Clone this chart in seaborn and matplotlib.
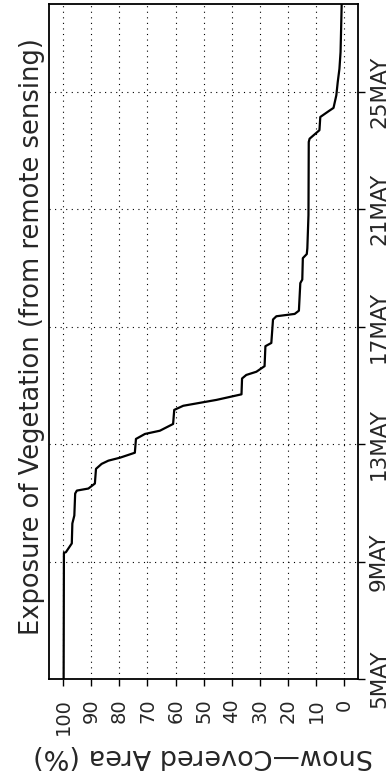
import numpy as np
import pandas as pd
import matplotlib
matplotlib.use("Agg")
import matplotlib.pyplot as plt
import seaborn as sns

# ---- data (day of May, fractional; snow-covered area %) ----
day_of_may = [5.00, 9.30, 9.32, 9.62, 10.30, 10.57, 11.32, 11.42, 11.49, 11.66,
              12.16, 12.33, 12.44, 12.54, 12.71, 13.18, 13.35, 13.46, 13.69, 14.17,
              14.31, 14.41, 14.51, 14.61, 14.70, 15.24, 15.36, 15.47, 15.66, 16.34,
              16.45, 17.25, 17.36, 17.44, 17.55, 18.49, 18.61, 19.34, 19.48, 19.68,
              20.81, 23.30, 23.41, 23.70, 24.15, 24.37, 24.46, 24.89, 25.34, 25.79,
              26.36, 27.15, 28.00]
sca = [99.8, 99.7, 99.0, 96.9, 96.7, 96.0, 95.7, 95.1, 91.0, 88.7,
       88.3, 86.3, 83.9, 79.8, 74.5, 74.1, 70.9, 65.6, 60.9, 60.5,
       57.3, 51.4, 45.5, 40.8, 36.6, 36.4, 34.9, 31.3, 28.4, 28.1,
       26.0, 25.4, 24.2, 17.7, 16.2, 15.7, 15.0, 14.8, 13.4, 13.2,
       12.8, 12.7, 12.4, 8.9, 8.6, 5.3, 3.9, 2.9, 2.4, 1.8,
       1.4, 1.2, 1.0]

sca_ticks = [100, 90, 80, 70, 60, 50, 40, 30, 20, 10, 0]
date_ticks = [5, 9, 13, 17, 21, 25]
date_labels = ["5MAY", "9MAY", "13MAY", "17MAY", "21MAY", "25MAY"]
title_text = "Exposure of Vegetation (from remote sensing)"
ylabel_text = "Snow\u2014Covered Area (%)"

df = pd.DataFrame({"day": day_of_may, "sca": sca})

sns.set_style("ticks")
plt.rcParams["font.family"] = ["DejaVu Sans"]

W, H = 390, 774
fig = plt.figure(figsize=(W / 100, H / 100), dpi=100)
ax = fig.add_axes([49 / W, 1 - 679 / H, (358 - 49) / W, (679 - 4) / H])

sns.lineplot(data=df, x="sca", y="day", sort=False, estimator=None,
             color="black", linewidth=1.6, ax=ax)

ax.set_xlim(105, -4.8)
ax.set_ylim(5, 28)

ax.set_xticks(sca_ticks)
ax.set_xticklabels([str(t) for t in sca_ticks], rotation=90, fontsize=14)
ax.yaxis.tick_right()
ax.set_yticks(date_ticks)
ax.set_yticklabels(date_labels, rotation=90, fontsize=15.5, va="center")
ax.tick_params(axis="both", direction="out", length=5, width=1, color="black")
ax.tick_params(axis="x", pad=9)
ax.tick_params(axis="y", pad=3)

ax.grid(True, axis="both", color="black", linestyle=(0, (1, 4)), linewidth=0.8)

for s in ax.spines.values():
    s.set_visible(True)
    s.set_color("black")
    s.set_linewidth(1.3)

ax.set_xlabel("")
ax.set_ylabel("")

fig.text(32 / W, 1 - 337 / H, title_text, rotation=90, ha="center",
         va="center", fontsize=18.5)
fig.text(203 / W, 1 - 756 / H, ylabel_text, rotation=180, ha="center",
         va="center", fontsize=19.5)

fig.savefig("out.png", dpi=100)
